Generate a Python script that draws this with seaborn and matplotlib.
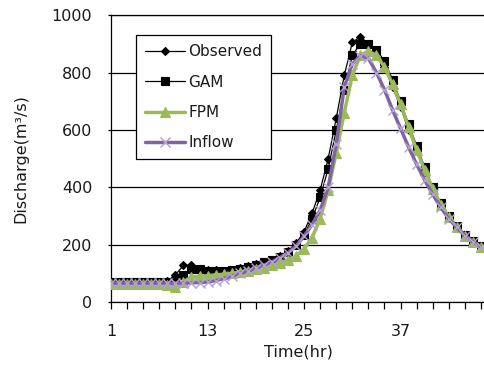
import matplotlib
matplotlib.use("Agg")
import matplotlib.pyplot as plt
import seaborn as sns
import pandas as pd
import numpy as np

hours = list(range(1, 48))

observed = [70, 70, 70, 70, 70, 70, 70, 72, 95, 128, 128, 110, 112, 112, 110, 112,
            118, 125, 133, 140, 148, 160, 178, 205, 245, 310, 390, 500, 640, 790,
            905, 925, 900, 870, 820, 750, 680, 600, 525, 455, 390, 335, 292, 258,
            230, 208, 190]
gam = [70, 70, 70, 70, 70, 70, 70, 70, 72, 95, 115, 115, 110, 110, 110, 112,
       115, 122, 130, 138, 147, 158, 175, 200, 235, 290, 365, 465, 600, 740,
       860, 900, 900, 880, 840, 775, 700, 620, 545, 470, 400, 345, 300, 265,
       235, 213, 195]
fpm = [62, 62, 62, 62, 62, 62, 62, 60, 52, 70, 88, 90, 92, 95, 97, 100,
       104, 110, 115, 120, 128, 136, 147, 160, 185, 225, 290, 390, 520, 660,
       790, 860, 875, 860, 820, 760, 690, 610, 530, 460, 395, 340, 295, 260,
       232, 210, 192]
inflow = [66, 66, 66, 66, 66, 66, 66, 66, 66, 66, 67, 68, 70, 75, 82, 90,
          100, 108, 118, 128, 140, 155, 172, 195, 230, 270, 320, 400, 550, 750,
          830, 858, 850, 800, 740, 670, 605, 540, 480, 425, 375, 330, 290, 260,
          232, 210, 192]

series_names = ["Observed", "GAM", "FPM", "Inflow"]
xtick_labels = ["1", "13", "25", "37"]

df = pd.DataFrame({"Time": hours, "Observed": observed, "GAM": gam,
                   "FPM": fpm, "Inflow": inflow})

sns.set_style("white")
plt.rcParams['font.family'] = ['DejaVu Sans']

fig = plt.figure(figsize=(4.85, 3.79), dpi=100)
ax = fig.add_axes([0.229, 0.203, 0.771, 0.757])

styles = {
    "Observed": dict(color="black", lw=0.9, marker="D", ms=4.5, mfc="black", mec="black"),
    "GAM": dict(color="black", lw=0.9, marker="s", ms=5.5, mfc="black", mec="black"),
    "FPM": dict(color="#9BBB59", lw=2.5, marker="^", ms=6.5, mfc="#9BBB59", mec="#9BBB59"),
    "Inflow": dict(color="#8064A2", lw=2.5, marker="x", ms=7, mew=1.0, mec="#B3A2D0"),
}

for name in series_names:
    st = styles[name]
    sns.lineplot(data=df, x="Time", y=name, ax=ax, label=name,
                 linewidth=st["lw"], color=st["color"], marker=st["marker"],
                 markersize=st["ms"], markerfacecolor=st.get("mfc", st["color"]),
                 markeredgecolor=st["mec"], markeredgewidth=st.get("mew", 0.8),
                 zorder=3)

ax.set_xlim(1, 47.5)
ax.set_ylim(0, 1000)
ax.set_yticks([0, 200, 400, 600, 800, 1000])
ax.set_xticks(list(range(1, 48, 2)))
labels = [str(h) if str(h) in xtick_labels else "" for h in range(1, 48, 2)]
ax.set_xticklabels(labels)
ax.grid(axis="y", color="black", linewidth=0.9)
ax.set_axisbelow(True)

for s in ["left", "bottom", "top"]:
    ax.spines[s].set_visible(True)
    ax.spines[s].set_color("black")
    ax.spines[s].set_linewidth(0.9)
ax.spines["right"].set_visible(False)

txt = "#1a1a1a"
ax.tick_params(axis="x", direction="out", length=5, width=0.9, color="black",
               pad=11, labelsize=11.5, labelcolor=txt, bottom=True)
ax.tick_params(axis="y", direction="out", length=2, width=0.9, color="black",
               pad=11.5, labelsize=11.5, labelcolor=txt, left=True)

ax.set_xlabel("Time(hr)", fontsize=11.5, color=txt, labelpad=4)
ax.set_ylabel("Discharge(m³/s)", fontsize=11.5, color=txt, labelpad=17)

leg = ax.legend(loc="upper left", bbox_to_anchor=(0.067, 0.93), frameon=True,
                fancybox=False, edgecolor="black", framealpha=1,
                fontsize=11, handlelength=2.6, labelspacing=1.0,
                borderpad=0.6, handletextpad=0.2, borderaxespad=0)
leg.get_frame().set_linewidth(0.9)
for t in leg.get_texts():
    t.set_color(txt)

fig.savefig("out.png", dpi=100)
